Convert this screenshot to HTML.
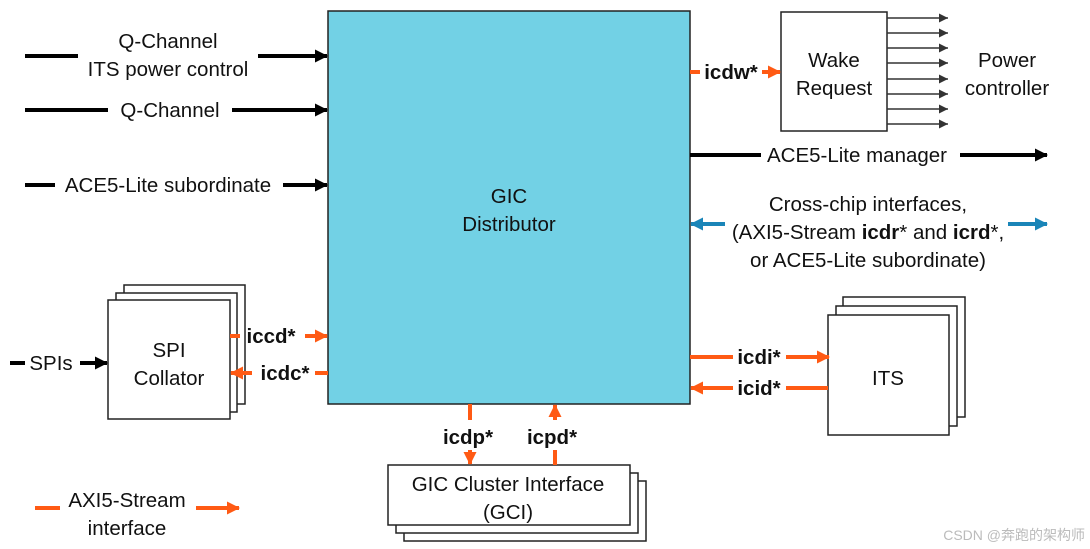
<!DOCTYPE html>
<html><head><meta charset="utf-8"><style>
html,body{margin:0;padding:0;background:#fff;}
svg{display:block;}
text{font-family:"Liberation Sans",sans-serif;font-size:20.5px;fill:#111;}
.b{font-weight:bold;}
</style></head><body>
<svg width="1090" height="549" viewBox="0 0 1090 549" xmlns="http://www.w3.org/2000/svg">
<defs>
<marker id="ak" markerWidth="13" markerHeight="13" refX="12" refY="6.5" orient="auto" markerUnits="userSpaceOnUse"><path d="M0,0 L13,6.5 L0,13 z" fill="#000"/></marker>
<marker id="ao" markerWidth="13" markerHeight="13" refX="12" refY="6.5" orient="auto" markerUnits="userSpaceOnUse"><path d="M0,0 L13,6.5 L0,13 z" fill="#ff5a14"/></marker>
<marker id="ab" markerWidth="13" markerHeight="13" refX="12" refY="6.5" orient="auto" markerUnits="userSpaceOnUse"><path d="M0,0 L13,6.5 L0,13 z" fill="#1a85b8"/></marker>
<marker id="ag" markerWidth="9" markerHeight="9" refX="9" refY="4.5" orient="auto" markerUnits="userSpaceOnUse"><path d="M0,0 L9,4.5 L0,9 z" fill="#333"/></marker>
</defs>
<!-- SPI collator stack -->
<g fill="#fff" stroke="#222" stroke-width="1.5">
<rect x="124" y="285" width="121" height="119"/>
<rect x="116" y="293" width="121" height="119"/>
<rect x="108" y="300" width="122" height="119"/>
</g>
<text x="169" y="357" text-anchor="middle">SPI</text>
<text x="169" y="385" text-anchor="middle">Collator</text>
<!-- ITS stack -->
<g fill="#fff" stroke="#222" stroke-width="1.5">
<rect x="843" y="297" width="122" height="120"/>
<rect x="836" y="306" width="121" height="120"/>
<rect x="828" y="315" width="121" height="120"/>
</g>
<text x="888" y="385" text-anchor="middle">ITS</text>
<!-- GCI stack -->
<g fill="#fff" stroke="#222" stroke-width="1.5">
<rect x="404" y="481" width="242" height="60"/>
<rect x="396" y="473" width="242" height="60"/>
<rect x="388" y="465" width="242" height="60"/>
</g>
<text x="508" y="491" text-anchor="middle">GIC Cluster Interface</text>
<text x="508" y="519" text-anchor="middle">(GCI)</text>
<!-- Distributor -->
<rect x="328" y="11" width="362" height="393" fill="#72d1e5" stroke="#222" stroke-width="1.5"/>
<text x="509" y="203" text-anchor="middle">GIC</text>
<text x="509" y="231" text-anchor="middle">Distributor</text>
<!-- black -->
<g stroke="#000" stroke-width="4">
<line x1="25" y1="56" x2="78" y2="56"/><line x1="258" y1="56" x2="327" y2="56" marker-end="url(#ak)"/>
<line x1="25" y1="110" x2="108" y2="110"/><line x1="232" y1="110" x2="327" y2="110" marker-end="url(#ak)"/>
<line x1="25" y1="185" x2="55" y2="185"/><line x1="283" y1="185" x2="327" y2="185" marker-end="url(#ak)"/>
<line x1="10" y1="363" x2="25" y2="363"/><line x1="80" y1="363" x2="107" y2="363" marker-end="url(#ak)"/>
<line x1="690" y1="155" x2="761" y2="155"/><line x1="960" y1="155" x2="1047" y2="155" marker-end="url(#ak)"/>
</g>
<text x="168" y="48" text-anchor="middle">Q-Channel</text>
<text x="168" y="76" text-anchor="middle">ITS power control</text>
<text x="170" y="117" text-anchor="middle">Q-Channel</text>
<text x="168" y="192" text-anchor="middle">ACE5-Lite subordinate</text>
<text x="51" y="370" text-anchor="middle">SPIs</text>
<text x="857" y="162" text-anchor="middle">ACE5-Lite manager</text>
<!-- Wake request -->
<rect x="781" y="12" width="106" height="119" fill="#fff" stroke="#222" stroke-width="1.5"/>
<text x="834" y="67" text-anchor="middle">Wake</text>
<text x="834" y="95" text-anchor="middle">Request</text>
<g stroke="#333" stroke-width="1.5">
<line x1="887" y1="18" x2="948" y2="18" marker-end="url(#ag)"/>
<line x1="887" y1="33" x2="948" y2="33" marker-end="url(#ag)"/>
<line x1="887" y1="48" x2="948" y2="48" marker-end="url(#ag)"/>
<line x1="887" y1="63" x2="948" y2="63" marker-end="url(#ag)"/>
<line x1="887" y1="79" x2="948" y2="79" marker-end="url(#ag)"/>
<line x1="887" y1="94" x2="948" y2="94" marker-end="url(#ag)"/>
<line x1="887" y1="109" x2="948" y2="109" marker-end="url(#ag)"/>
<line x1="887" y1="124" x2="948" y2="124" marker-end="url(#ag)"/>
</g>
<text x="1007" y="67" text-anchor="middle">Power</text>
<text x="1007" y="95" text-anchor="middle">controller</text>
<!-- orange connectors -->
<g stroke="#ff5a14" stroke-width="4">
<line x1="690" y1="72" x2="700" y2="72"/><line x1="762" y1="72" x2="780" y2="72" marker-end="url(#ao)"/>
<line x1="230" y1="336" x2="240" y2="336"/><line x1="305" y1="336" x2="327" y2="336" marker-end="url(#ao)"/>
<line x1="252" y1="373" x2="231" y2="373" marker-end="url(#ao)"/><line x1="315" y1="373" x2="328" y2="373"/>
<line x1="690" y1="357" x2="733" y2="357"/><line x1="786" y1="357" x2="829" y2="357" marker-end="url(#ao)"/>
<line x1="733" y1="388" x2="691" y2="388" marker-end="url(#ao)"/><line x1="786" y1="388" x2="828" y2="388"/>
<line x1="470" y1="404" x2="470" y2="420"/><line x1="470" y1="450" x2="470" y2="464" marker-end="url(#ao)"/>
<line x1="555" y1="420" x2="555" y2="405" marker-end="url(#ao)"/><line x1="555" y1="450" x2="555" y2="465"/>
<line x1="35" y1="508" x2="60" y2="508"/><line x1="196" y1="508" x2="239" y2="508" marker-end="url(#ao)"/>
</g>
<text x="731" y="79" text-anchor="middle" class="b">icdw*</text>
<text x="271" y="343" text-anchor="middle" class="b">iccd*</text>
<text x="285" y="380" text-anchor="middle" class="b">icdc*</text>
<text x="759" y="364" text-anchor="middle" class="b">icdi*</text>
<text x="759" y="395" text-anchor="middle" class="b">icid*</text>
<text x="468" y="444" text-anchor="middle" class="b">icdp*</text>
<text x="552" y="444" text-anchor="middle" class="b">icpd*</text>
<text x="127" y="507" text-anchor="middle">AXI5-Stream</text>
<text x="127" y="535" text-anchor="middle">interface</text>
<!-- blue cross-chip -->
<g stroke="#1a85b8" stroke-width="4">
<line x1="725" y1="224" x2="691" y2="224" marker-end="url(#ab)"/>
<line x1="1008" y1="224" x2="1047" y2="224" marker-end="url(#ab)"/>
</g>
<text x="868" y="211" text-anchor="middle">Cross-chip interfaces,</text>
<text x="868" y="239" text-anchor="middle">(AXI5-Stream <tspan class="b">icdr</tspan>* and <tspan class="b">icrd</tspan>*,</text>
<text x="868" y="267" text-anchor="middle">or ACE5-Lite subordinate)</text>
<text x="1085" y="540" text-anchor="end" style="font-size:14px;fill:#bbb;font-family:'Liberation Sans','Noto Sans CJK SC',sans-serif">CSDN @奔跑的架构师</text>
</svg>
</body></html>
